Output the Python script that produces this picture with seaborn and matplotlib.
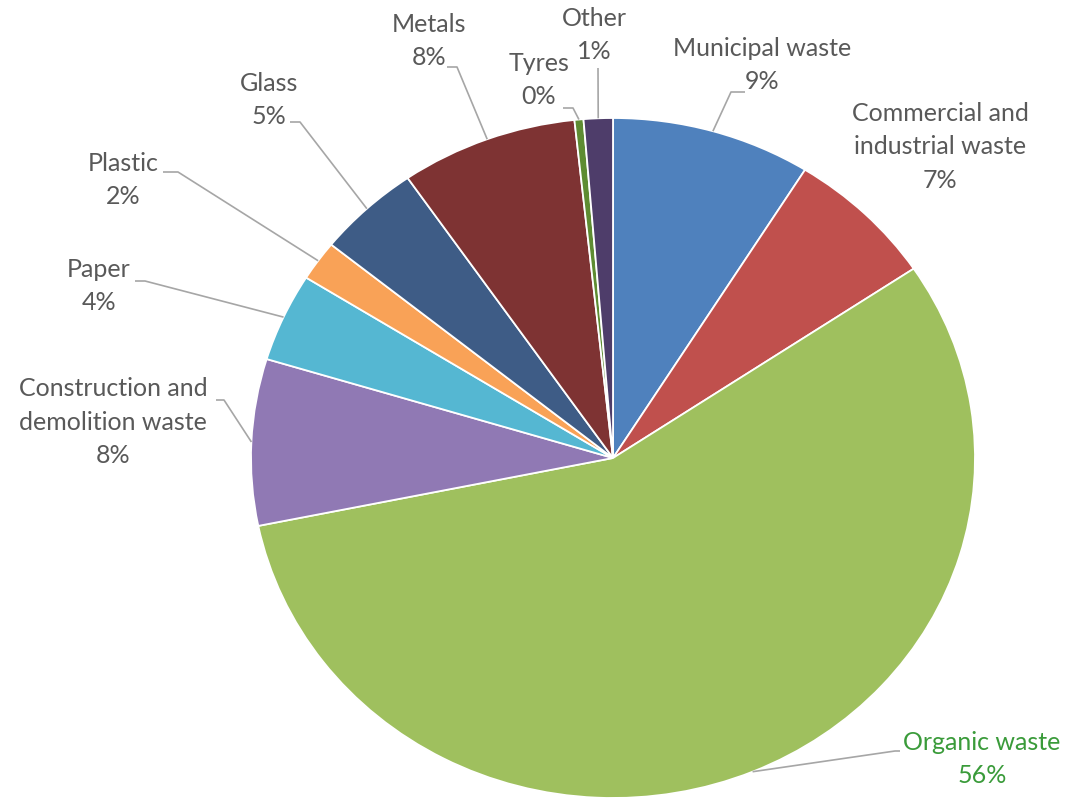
import matplotlib
matplotlib.use("Agg")
import matplotlib.pyplot as plt
import matplotlib.transforms as mtransforms
import numpy as np
import seaborn as sns

sns.set_theme(style="white")
plt.rcParams["font.family"] = ["Lato", "DejaVu Sans"]

# data (clockwise from 12 o'clock)
categories = ["Municipal waste", "Commercial and\nindustrial waste", "Organic waste",
              "Construction and\ndemolition waste", "Paper", "Plastic", "Glass",
              "Metals", "Tyres", "Other"]
shares = [8.9, 6.7, 56.2, 7.9, 4.2, 1.9, 4.6, 7.9, 0.4, 1.3]
pct_labels = ["9%", "7%", "56%", "8%", "4%", "2%", "5%", "8%", "0%", "1%"]
colors = ["#4F81BD", "#C0504D", "#9FC05E", "#9079B4", "#55B7D2", "#F9A257",
          "#3E5C86", "#7E3333", "#5E8C32", "#4E3D6A"]

# layout in pixel coords (y down): text centre, elbow point, end of horizontal stub
text_pos = [(762, 65), (940, 147), (982, 759), (113, 422), (99, 286),
            (123, 180), (269, 100), (429, 41), (539, 80), (594, 35)]
elbows = [(731, 92), None, (895, 751), (224, 400), (145, 281),
          (178, 172), (300, 122), (457, 67), (573, 108), (598, 68)]
stubs = [(745, 92), None, (900, 751), (216, 400), (135, 281),
         (163, 172), (290, 122), (447, 67), (563, 108), None]

W, H = 1067, 806
cx, cy, rx, ry = 613, 458, 362, 340

fig = plt.figure(figsize=(W / 100, H / 100), dpi=100)
ax = fig.add_axes([0, 0, 1, 1])

wedges, _ = ax.pie(shares, colors=colors, startangle=90, counterclock=False,
                   radius=1, center=(0, 0),
                   wedgeprops=dict(edgecolor="white", linewidth=1.3))
ax.set_xlim(0, W)
ax.set_ylim(0, H)
ax.set_aspect("auto")
ax.axis("off")
tr = mtransforms.Affine2D().scale(rx, ry).translate(cx, H - cy) + ax.transData
for w in wedges:
    w.set_transform(tr)

gray = "#595959"
line_c = "#A6A6A6"
for i, w in enumerate(wedges):
    mid = np.deg2rad((w.theta1 + w.theta2) / 2)
    ex = cx + rx * np.cos(mid)
    ey = cy - ry * np.sin(mid)
    col = "#3A9B3A" if i == 2 else gray
    tx, ty = text_pos[i]
    ax.text(tx, H - ty, categories[i] + "\n" + pct_labels[i], ha="center", va="center",
            fontsize=18, color=col, linespacing=1.55)
    if elbows[i] is not None:
        pts = [(ex, ey), elbows[i]]
        if stubs[i] is not None:
            pts.append(stubs[i])
        xs = [p[0] for p in pts]
        ys = [H - p[1] for p in pts]
        ax.plot(xs, ys, color=line_c, lw=1.2, solid_capstyle="butt")

fig.savefig("out.png", dpi=100)
